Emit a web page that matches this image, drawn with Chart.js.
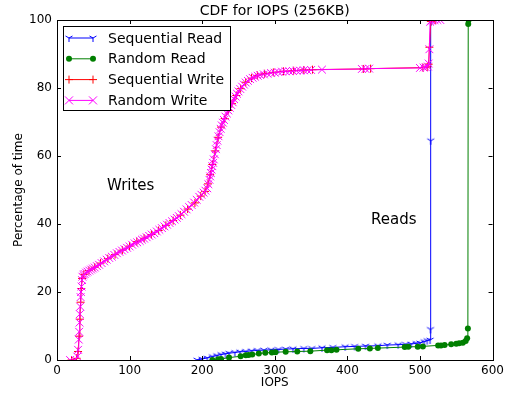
<!DOCTYPE html>
<html>
<head>
<meta charset="utf-8">
<script src="https://cdn.jsdelivr.net/npm/chart.js@4/dist/chart.umd.min.js"></script>
<style>
  html, body { margin: 0; padding: 0; background: #fff; }
  #wrap { width: 508px; height: 396px; }
</style>
</head>
<body>
<div id="wrap"><canvas id="cdfChart" width="508" height="396"></canvas></div>
<script>
const seriesNames = ["Sequential Read", "Random Read", "Sequential Write", "Random Write"];
const xTicks = [0, 100, 200, 300, 400, 500, 600];
const yTicks = [0, 20, 40, 60, 80, 100];

const seqReadX = [193, 200, 207, 214, 220, 226, 232, 237, 245, 252, 260, 268, 276, 285, 295, 305, 315, 325, 340, 351, 365, 380, 397, 410, 425, 442, 455, 470, 480, 488, 495, 500, 506, 510, 514, 514.5, 514.8, 515, 516];
const seqReadY = [0, 0.3, 0.6, 1, 1.3, 1.6, 1.8, 2, 2.2, 2.4, 2.5, 2.7, 2.8, 2.9, 3, 3.1, 3.2, 3.3, 3.4, 3.4, 3.6, 3.7, 3.9, 4, 4.1, 4.2, 4.4, 4.5, 4.6, 4.7, 4.9, 5, 5.4, 5.7, 5.9, 9, 64.5, 99.5, 100];

const randReadX = [214, 222, 226, 237, 253, 260, 264, 269, 278, 287, 296, 301, 315, 331, 349, 372, 378, 385, 415, 431, 442, 479, 484, 497, 504, 525, 529, 534, 543, 550, 554, 559, 563, 565, 566, 566.5, 567];
const randReadY = [0, 0.2, 0.3, 0.7, 1.1, 1.4, 1.5, 1.6, 1.9, 2.1, 2.2, 2.3, 2.4, 2.5, 2.6, 2.9, 2.9, 3, 3.3, 3.4, 3.5, 3.8, 3.9, 3.9, 4, 4.3, 4.3, 4.4, 4.6, 4.8, 4.9, 5.1, 5.6, 6.4, 9.3, 98.8, 100];

const seqWriteX = [20, 27, 29, 30.5, 31.5, 32.5, 33.5, 34.5, 37, 44, 52, 60, 70, 80, 90, 100, 110, 120, 130, 140, 150, 160, 170, 180, 190, 198, 204, 208, 211, 214, 218, 222, 226, 231, 236, 241, 247, 253, 260, 268, 276, 286, 298, 312, 326, 340, 352, 422, 432, 504, 510, 512, 513, 515, 521];
const seqWriteY = [0, 0.5, 2.5, 7, 12, 17, 21, 24, 25.2, 26.3, 27.3, 28.5, 29.8, 31, 32.3, 33.5, 34.8, 35.8, 36.9, 38.1, 39.6, 41, 42.6, 44.4, 46.2, 48.2, 49.6, 51.8, 54.5, 57.5, 61.5, 65.5, 68.5, 71, 73.4, 75.4, 77.8, 79.8, 81.7, 82.9, 83.7, 84.2, 84.6, 84.9, 85.1, 85.3, 85.4, 85.6, 85.7, 86, 86.2, 87, 92, 99.6, 100];

const randWriteX = [18, 25, 28, 29, 30, 30.5, 31, 31.5, 32, 32.5, 33, 33.8, 34.5, 35, 36.5, 38, 40, 42, 44.5, 47, 49.5, 52, 55, 58, 61.5, 65, 68.5, 72, 75.5, 79, 82.5, 86, 89.5, 93, 96.5, 100, 103.5, 107, 110.5, 114, 117, 120, 123.5, 127, 130.5, 134, 137.5, 141, 144.5, 148, 151.5, 155, 158.5, 162, 165, 168, 171.5, 175, 178.5, 182, 185.5, 189, 192.5, 196, 199, 202, 204.5, 207, 208.5, 210, 211, 212, 213, 214, 215, 216, 217.5, 219, 220, 221, 222.5, 224, 225.5, 227, 228.5, 230, 232, 234, 236, 238, 240, 242, 244, 246, 248, 250, 252.5, 255, 257.5, 260, 263, 266, 269.5, 273, 276.5, 280, 285, 290, 295, 300, 305, 310, 315, 320, 325, 330, 335, 340, 345, 350, 365, 420, 425, 430, 500, 505, 508, 511, 512, 513, 514, 516, 520, 524, 528];
const randWriteY = [0, 0, 1, 3, 6, 8.3, 11, 13.5, 15.7, 18.5, 20, 21.6, 23.5, 24.5, 25, 25.3, 25.7, 26, 26.3, 26.6, 26.9, 27.2, 27.6, 28, 28.5, 29, 29.5, 30, 30.4, 30.9, 31.4, 31.8, 32.2, 32.6, 33, 33.4, 33.9, 34.3, 34.6, 35, 35.4, 35.7, 36.1, 36.5, 36.9, 37.3, 37.8, 38.3, 38.8, 39.3, 39.8, 40.3, 40.8, 41.3, 41.8, 42.3, 42.9, 43.6, 44.3, 45, 45.6, 46.3, 47.1, 48, 48.6, 49.2, 49.8, 50.5, 51.7, 53, 54, 55, 56, 57, 58, 59, 60.5, 62, 63.2, 64.5, 65.8, 67, 68, 69, 69.8, 70.6, 71.6, 72.5, 73.4, 74.2, 75, 75.8, 76.7, 77.5, 78.3, 79, 79.7, 80.4, 81, 81.6, 82.1, 82.6, 83, 83.3, 83.6, 83.8, 84, 84.2, 84.4, 84.5, 84.7, 84.8, 84.9, 84.9, 85, 85.1, 85.1, 85.2, 85.2, 85.3, 85.4, 85.6, 85.6, 85.7, 85.9, 86, 86.1, 86.3, 87.2, 91.4, 99.5, 99.8, 100, 100, 100];

const FONT = "'DejaVu Sans', 'Bitstream Vera Sans', sans-serif";

function pairs(xs, ys) {
	return xs.map((x, i) => ({ x: x, y: ys[i] }));
}

// matplotlib style "tri_down" marker, drawn into a small canvas
function triDown(color, size) {
	const c = document.createElement("canvas");
	c.width = size * 2 + 2;
	c.height = size * 2 + 2;
	const g = c.getContext("2d");
	const cx = size + 1, cy = size + 1;
	g.strokeStyle = color;
	g.lineWidth = 1;
	g.beginPath();
	g.moveTo(cx, cy); g.lineTo(cx, cy + size);
	g.moveTo(cx, cy); g.lineTo(cx - size * 0.87, cy - size * 0.5);
	g.moveTo(cx, cy); g.lineTo(cx + size * 0.87, cy - size * 0.5);
	g.stroke();
	return c;
}

const blueTri = triDown("#0000ff", 4);

const styles = [
	{ color: "#0000ff", marker: "tri" },
	{ color: "#007f00", marker: "circle" },
	{ color: "#ff0000", marker: "plus" },
	{ color: "#ff00ff", marker: "x" },
];

function drawMarker(ctx, kind, color, x, y) {
	ctx.save();
	ctx.strokeStyle = color;
	ctx.fillStyle = color;
	ctx.lineWidth = 1;
	ctx.beginPath();
	if (kind === "circle") {
		ctx.arc(x, y, 3, 0, Math.PI * 2);
		ctx.fill();
	} else if (kind === "plus") {
		ctx.moveTo(x - 4, y); ctx.lineTo(x + 4, y);
		ctx.moveTo(x, y - 4); ctx.lineTo(x, y + 4);
		ctx.stroke();
	} else if (kind === "x") {
		ctx.moveTo(x - 4, y - 4); ctx.lineTo(x + 4, y + 4);
		ctx.moveTo(x - 4, y + 4); ctx.lineTo(x + 4, y - 4);
		ctx.stroke();
	} else {
		ctx.drawImage(blueTri, x - blueTri.width / 2, y - blueTri.height / 2);
	}
	ctx.restore();
}

const framePlugin = {
	id: "frame",
	afterDatasetsDraw(chart) {
		const { ctx, chartArea: a, scales } = chart;
		ctx.save();
		ctx.strokeStyle = "#000";
		ctx.lineWidth = 1;
		ctx.strokeRect(Math.round(a.left) + 0.5, Math.round(a.top) + 0.5, Math.round(a.right - a.left), Math.round(a.bottom - a.top));
		ctx.beginPath();
		scales.x.ticks.forEach((t) => {
			const px = Math.round(scales.x.getPixelForValue(t.value)) + 0.5;
			ctx.moveTo(px, a.bottom); ctx.lineTo(px, a.bottom - 4);
			ctx.moveTo(px, a.top); ctx.lineTo(px, a.top + 4);
		});
		scales.y.ticks.forEach((t) => {
			const py = Math.round(scales.y.getPixelForValue(t.value)) + 0.5;
			ctx.moveTo(a.left, py); ctx.lineTo(a.left + 4, py);
			ctx.moveTo(a.right, py); ctx.lineTo(a.right - 4, py);
		});
		ctx.stroke();
		ctx.restore();
	},
	afterDraw(chart) {
		const { ctx, chartArea: a } = chart;
		ctx.save();
		ctx.fillStyle = "#000";
		ctx.textBaseline = "middle";
		ctx.textAlign = "center";
		ctx.font = "14px " + FONT;
		ctx.fillText("CDF for IOPS (256KB)", (a.left + a.right) / 2, 11);

		ctx.textAlign = "left";
		ctx.font = "15px " + FONT;
		ctx.fillText("Writes", 107, 186);
		ctx.fillText("Reads", 371, 220);

		// legend box
		const bx = 63, by = 26, bw = 167, bh = 84;
		ctx.fillStyle = "#fff";
		ctx.fillRect(bx, by, bw, bh);
		ctx.strokeStyle = "#000";
		ctx.lineWidth = 1;
		ctx.strokeRect(bx + 0.5, by + 0.5, bw, bh);
		ctx.font = "14px " + FONT;
		chart.data.datasets.forEach((ds, i) => {
			const rowY = 38 + i * 20.8;
			const st = styles[i];
			ctx.strokeStyle = st.color;
			ctx.beginPath();
			ctx.moveTo(69, rowY); ctx.lineTo(93, rowY);
			ctx.stroke();
			drawMarker(ctx, st.marker, st.color, 69, rowY);
			drawMarker(ctx, st.marker, st.color, 93, rowY);
			ctx.fillStyle = "#000";
			ctx.fillText(ds.label, 108, rowY + 1);
		});
		ctx.restore();
	},
};

const ctx = document.getElementById("cdfChart").getContext("2d");

const cdfChart = new Chart(ctx, {
	type: "line",
	data: {
		datasets: [
			{
				label: seriesNames[0],
				data: pairs(seqReadX, seqReadY),
				borderColor: "#0000ff",
				borderWidth: 1,
				pointStyle: blueTri,
				pointRadius: 4,
				order: 3,
			},
			{
				label: seriesNames[1],
				data: pairs(randReadX, randReadY),
				borderColor: "#007f00",
				backgroundColor: "#007f00",
				borderWidth: 1,
				pointStyle: "circle",
				pointRadius: 3,
				pointBorderWidth: 0,
				order: 2,
			},
			{
				label: seriesNames[2],
				data: pairs(seqWriteX, seqWriteY),
				borderColor: "#ff0000",
				borderWidth: 1,
				pointStyle: "cross",
				pointRadius: 4,
				pointBorderWidth: 1,
				order: 1,
			},
			{
				label: seriesNames[3],
				data: pairs(randWriteX, randWriteY),
				borderColor: "#ff00ff",
				borderWidth: 1,
				pointStyle: "crossRot",
				pointRadius: 5.5,
				pointBorderWidth: 1,
				order: 0,
			},
		],
	},
	options: {
		responsive: false,
		animation: false,
		layout: { padding: { top: 20, right: 13, left: 0, bottom: 0 } },
		plugins: {
			legend: { display: false },
			tooltip: { enabled: false },
			title: { display: false },
		},
		elements: { line: { tension: 0 } },
		scales: {
			x: {
				type: "linear",
				min: 0,
				max: 600,
				afterBuildTicks: (scale) => { scale.ticks = xTicks.map((v) => ({ value: v })); },
				afterFit: (scale) => { scale.height = 36; },
				grid: { display: false, drawTicks: false },
				border: { display: false },
				ticks: { color: "#000", padding: 4, font: { family: FONT, size: 12 } },
				title: { display: true, text: "IOPS", color: "#000", padding: { top: 0, bottom: 6 }, font: { family: FONT, size: 12 } },
			},
			y: {
				type: "linear",
				min: 0,
				max: 100,
				afterBuildTicks: (scale) => { scale.ticks = yTicks.map((v) => ({ value: v })); },
				afterFit: (scale) => { scale.width = 57; },
				grid: { display: false, drawTicks: false },
				border: { display: false },
				ticks: { color: "#000", padding: 5, font: { family: FONT, size: 12 } },
				title: { display: true, text: "Percentage of time", color: "#000", padding: { top: 12, bottom: 0 }, font: { family: FONT, size: 12 } },
			},
		},
	},
	plugins: [framePlugin],
});
</script>
</body>
</html>
